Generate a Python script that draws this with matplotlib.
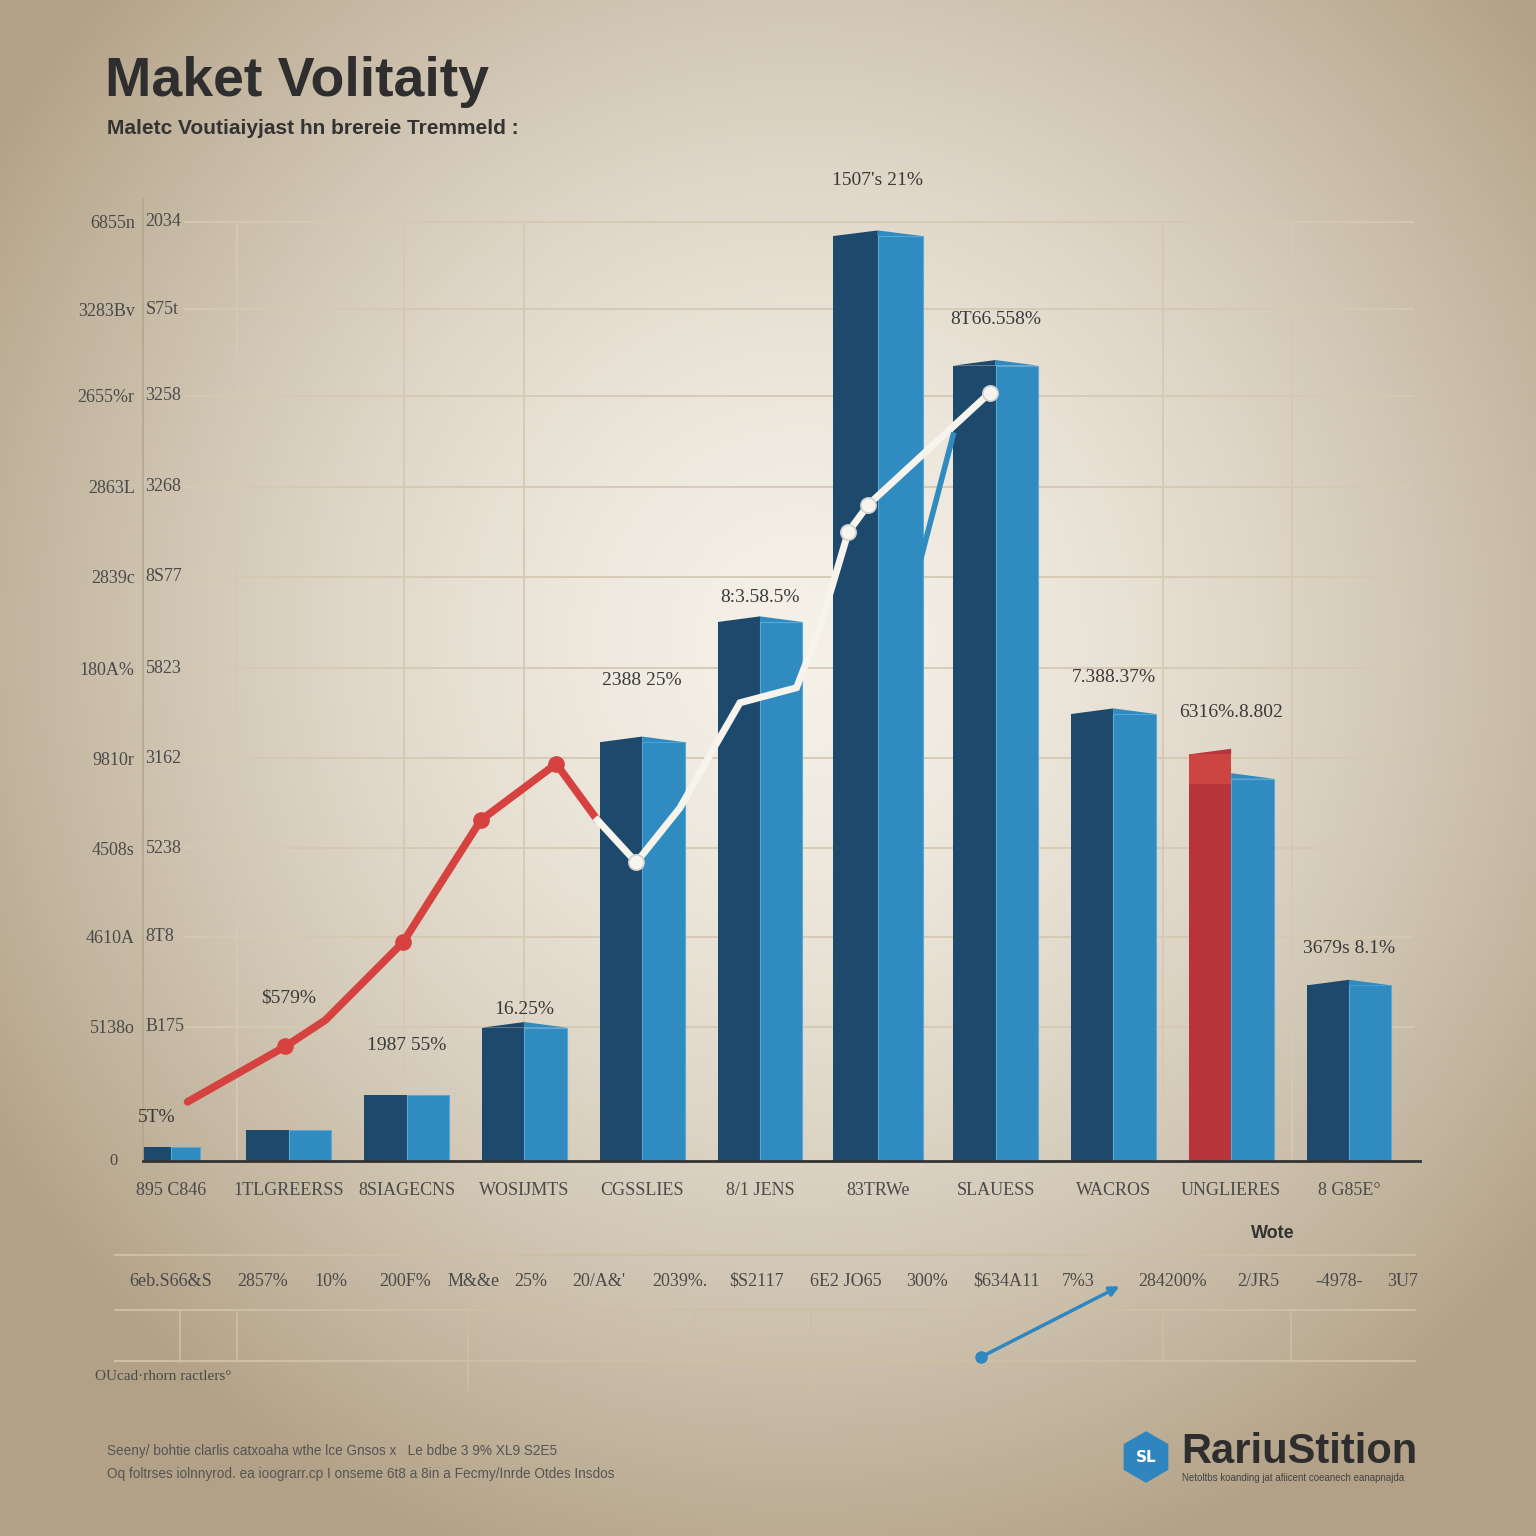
import numpy as np
import matplotlib
matplotlib.use("Agg")
from matplotlib import pyplot as plt
from matplotlib.patches import RegularPolygon

W = H = 1536
DPI = 100

# ---- values (y in chart units, top gridline = 100) ----
categories = ["895 C846", "1TLGREERSS", "8SIAGECNS", "WOSIJMTS", "CGSSLIES",
              "8/1 JENS", "83TRWe", "SLAUESS", "WACROS", "UNGLIERES", "8 G85E\u00b0"]
dark_vals = [1.5, 3.3, 7.0, 14.2, 44.6, 57.4, 98.5, 84.7, 47.6, 43.3, 18.7]
light_vals = [1.5, 3.3, 7.0, 14.2, 44.6, 57.4, 98.5, 84.7, 47.6, 40.7, 18.7]
value_labels = ["5T%", "$579%", "1987 55%", "16.25%", "2388 25%", "8:3.58.5%",
                "1507's 21%", "8T66.558%", "7.388.37%", "6316%.8.802", "3679s 8.1%"]

red_x = [0.14, 0.97, 1.31, 1.97, 2.63, 3.27, 3.62]
red_y = [6.3, 12.2, 15.0, 23.3, 36.3, 42.3, 36.3]
white_x = [3.62, 3.95, 4.32, 4.60, 4.83, 5.31, 5.51, 5.75, 5.92, 6.95]
white_y = [36.3, 31.8, 37.6, 43.8, 48.8, 50.4, 56.9, 67.0, 69.9, 81.8]
blue_x = [6.26, 6.64]
blue_y = [59.1, 77.3]

grid_vals = [14.3, 23.9, 33.3, 42.9, 52.5, 62.2, 71.8, 81.5, 90.7, 100.0]
left_ticks = ["5138o", "4610A", "4508s", "9810r", "180A%", "2839c", "2863L",
              "2655%r", "3283Bv", "6855n"]
right_ticks = ["B175", "8T8", "5238", "3162", "5823", "8S77", "3268", "3258",
               "S75t", "2034"]

table_row = ["6eb.S66&S", "2857%", "10%", "200F%", "M&&e", "25%", "20/A&'",
             "2039%.", "$S2117", "6E2 JO65", "300%", "$634A11", "7%3",
             "284200%", "2/JR5", "-4978-", "3U7"]

# ---- layout (pixels of the 1536 canvas) ----
table_x = [171, 263, 331, 405, 474, 531, 599, 680, 757, 846, 927, 1007, 1078,
           1173, 1258, 1339, 1403]
vgrid_x = [0.56, 1.98, 3.0, 8.42, 9.52]
half_w = [0.25, 0.36, 0.36, 0.36, 0.36, 0.36, 0.38, 0.36, 0.36, 0.36, 0.36]
label_dy = [3.1, 14.1, 5.3, 1.9, 6.6, 2.6, 5.9, 4.9, 3.9, 4.5, 3.9]
peak = 0.6

dark = "#1d4a6c"
light = "#2f8bc0"
red = "#b7343b"
txt = "#3a3a3a"


def fx(px):
    return px / W


def fy(py):
    return 1 - py / H


fig = plt.figure(figsize=(W / DPI, H / DPI), dpi=DPI)

# background radial gradient
bg = fig.add_axes([0, 0, 1, 1], zorder=0)
yy, xx = np.mgrid[0:H:4, 0:W:4]
r = np.hypot((xx - 800) / 950, (yy - 640) / 980)
t = np.clip(r, 0, 1) ** 1.5
c_in = np.array([245, 241, 232]) / 255
c_out = np.array([178, 161, 134]) / 255
img = c_in * (1 - t[..., None]) + c_out * t[..., None]
bg.imshow(img, extent=[0, W, H, 0], aspect="auto")
bg.set_xlim(0, W)
bg.set_ylim(H, 0)
bg.axis("off")

# main chart
ax = fig.add_axes([fx(143), fy(1161), (1420 - 143) / W, (1161 - 160) / H], zorder=1)
ax.patch.set_alpha(0)
x = np.arange(len(categories))
ax.set_xlim(-0.238, 10.603)
ax.set_ylim(0, 106.6)

for g in grid_vals:
    ax.axhline(g, xmin=0.033, xmax=0.9945, color="#d6c9b3", lw=1.3, zorder=0)
for v in vgrid_x:
    ax.plot([v, v], [0, 100], color="#d6c9b3", lw=1.3, zorder=0)

dark_colors = [dark] * len(x)
dark_colors[9] = red
ax.bar(x, dark_vals, width=[-w for w in half_w], align="edge", color=dark_colors, zorder=2)
ax.bar(x, light_vals, width=half_w, align="edge", color=light,
       edgecolor="#5aa8d8", linewidth=0.8, zorder=2)
# slight pyramid tops of the pseudo-3D bars
for i in range(len(x)):
    if dark_vals[i] > 10:
        ax.fill([x[i] - half_w[i], x[i], x[i]], [dark_vals[i], dark_vals[i] + peak, dark_vals[i]],
                color=dark_colors[i], lw=0, zorder=2)
        ax.fill([x[i], x[i] + half_w[i], x[i]], [light_vals[i] + peak, light_vals[i], light_vals[i]],
                color=light, lw=0, zorder=2)
# lighter cap on the red bar
ax.bar(x[9], dark_vals[9] - light_vals[9] + 0.6, bottom=light_vals[9] - 0.6,
       width=-half_w[9], align="edge", color="#cc4540", zorder=2)

ax.plot(red_x, red_y, color="#d6423f", lw=5.5, solid_capstyle="round",
        marker="o", markersize=11, markevery=[1, 3, 4, 5], zorder=4)
ax.plot(white_x, white_y, color="#f7f4ee", lw=5, solid_joinstyle="miter",
        marker="o", markersize=11, markevery=[1, 7, 8, 9],
        markeredgecolor="#d0d0d0", markeredgewidth=1.2, zorder=4)
ax.plot(blue_x, blue_y, color="#2f8bc0", lw=4, zorder=4)

for i, lab in enumerate(value_labels):
    top = max(dark_vals[i], light_vals[i])
    ax.text(x[i] - (0.12 if i == 0 else 0), top + label_dy[i], lab, ha="center",
            va="center", fontsize=14, family="Liberation Serif", color=txt, zorder=5)

for s in ["top", "right"]:
    ax.spines[s].set_visible(False)
ax.spines["left"].set_color("#b3a78f")
ax.spines["left"].set_linewidth(1.2)
ax.spines["left"].set_bounds(0, 102.5)
ax.spines["bottom"].set_color("#333333")
ax.spines["bottom"].set_linewidth(2)

ax.set_xticks(x)
ax.set_xticklabels(categories, fontsize=13, family="Liberation Serif", color="#4a4a4a")
ax.tick_params(axis="x", length=0, pad=15)
ax.set_yticks(grid_vals)
ax.set_yticklabels(left_ticks, fontsize=13, family="Liberation Serif", color="#4a4a4a")
ax.tick_params(axis="y", length=0, pad=6)
ax.text(-0.02, 0, "0", transform=ax.get_yaxis_transform(), ha="right", va="center",
        fontsize=12, family="Liberation Serif", color="#4a4a4a")
for g, lab in zip(grid_vals, right_ticks):
    ax.text(0.002, g, lab, transform=ax.get_yaxis_transform(), ha="left", va="center",
            fontsize=13, family="Liberation Serif", color="#4a4a4a")

# overlay: table lines, arrow, logo
ov = fig.add_axes([0, 0, 1, 1], zorder=2)
ov.patch.set_alpha(0)
ov.set_xlim(0, W)
ov.set_ylim(H, 0)
ov.axis("off")
for yl in [1255, 1310, 1361]:
    ov.plot([115, 1415], [yl, yl], color="#cdbfa6", lw=1.5)
for xl, y2 in [(180, 1362), (237, 1362), (468, 1390), (694, 1362), (811, 1390),
               (1163, 1362), (1291, 1362)]:
    ov.plot([xl, xl], [1310, y2], color="#cdbfa6", lw=1.2)
ov.annotate("", xy=(1122, 1285), xytext=(981, 1357),
            arrowprops=dict(arrowstyle="-|>", color="#2f86c1", lw=2.5, mutation_scale=14))
ov.plot([981], [1357], "o", color="#2f86c1", markersize=8)
ov.add_patch(RegularPolygon((1146, 1457), 6, radius=25, color="#2f86bf"))
ov.text(1146, 1457, "SL", color="white", fontsize=11, weight="bold", ha="center", va="center")

for xp, s in zip(table_x, table_row):
    fig.text(fx(xp), fy(1281), s, ha="center", va="center", fontsize=13,
             family="Liberation Serif", color="#4a4a4a")

# texts
fig.text(fx(105), fy(82), "Maket Volitaity", fontsize=40, weight="bold",
         family="Liberation Sans", color="#2e2e2e", va="center")
fig.text(fx(107), fy(128), "Maletc Voutiaiyjast hn brereie Tremmeld :", fontsize=15,
         weight="bold", family="Liberation Sans", color="#333333", va="center")
fig.text(fx(1273), fy(1233), "Wote", fontsize=13, weight="bold",
         family="Liberation Sans", color="#333333", ha="center", va="center")
fig.text(fx(95), fy(1376), "OUcad\u00b7rhorn ractlers\u00b0", fontsize=11,
         family="Liberation Serif", color="#4a4a4a", va="center")
fig.text(fx(107), fy(1451), "Seeny/ bohtie clarlis catxoaha wthe lce Gnsos x   Le bdbe 3 9% XL9 S2E5",
         fontsize=9.8, family="Liberation Sans", color="#555555", va="center")
fig.text(fx(107), fy(1474), "Oq foltrses iolnnyrod. ea ioograrr.cp I onseme 6t8 a 8in a Fecmy/Inrde Otdes Insdos",
         fontsize=9.8, family="Liberation Sans", color="#555555", va="center")
fig.text(fx(1181), fy(1452), "RariuStition", fontsize=30, weight="bold",
         family="Liberation Sans", color="#2e2e2e", va="center")
fig.text(fx(1182), fy(1478), "Netoltbs koanding jat afiicent coeanech eanapnajda",
         fontsize=7, family="Liberation Sans", color="#444444", va="center")

fig.savefig("out.png", dpi=DPI)
